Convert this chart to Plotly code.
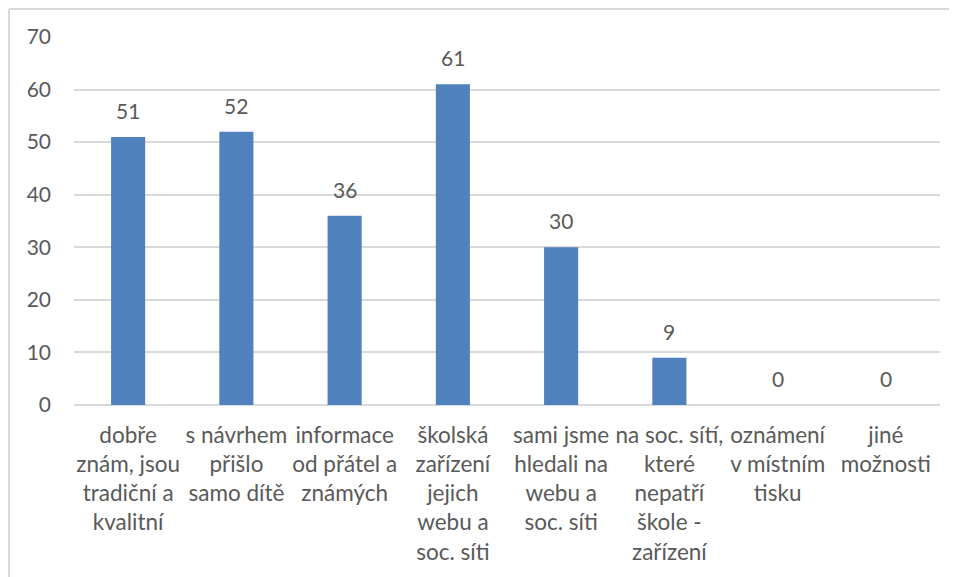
import plotly.graph_objects as go

categories = [
    "dobře<br>znám, jsou<br>tradiční a<br>kvalitní",
    "s návrhem<br>přišlo<br>samo dítě",
    "informace<br>od přátel a<br>známých",
    "školská<br>zařízení<br>jejich<br>webu a<br>soc. síti",
    "sami jsme<br>hledali na<br>webu a<br>soc. síti",
    "na soc. sítí,<br>které<br>nepatří<br>škole -<br>zařízení",
    "oznámení<br>v místním<br>tisku",
    "jiné<br>možnosti",
]
values = [51, 52, 36, 61, 30, 9, 0, 0]
y_ticks = [0, 10, 20, 30, 40, 50, 60, 70]

FONT = "Lato, Open Sans, sans-serif"
TXT = "#595959"
GRID = "#D9D9D9"

fig = go.Figure()
fig.add_trace(go.Bar(
    x=categories, y=values,
    marker=dict(color="#4F81BD", line=dict(width=0)),
    hoverinfo="skip",
))

for c, v in zip(categories, values):
    fig.add_annotation(x=c, y=v, text=str(v), showarrow=False,
                       yanchor="bottom", yshift=12,
                       font=dict(family=FONT, size=21, color=TXT))

# chart frame
fig.add_shape(type="line", xref="paper", yref="paper",
              x0=-0.075, x1=1.2, y0=1.076, y1=1.076,
              line=dict(color=GRID, width=2))
fig.add_shape(type="line", xref="paper", yref="paper",
              x0=-0.075, x1=-0.075, y0=1.076, y1=-0.6,
              line=dict(color=GRID, width=2))

fig.update_layout(
    width=949, height=569,
    margin=dict(l=66, r=17, t=29, b=172, autoexpand=False),
    paper_bgcolor="white", plot_bgcolor="white",
    bargap=0.685,
    showlegend=False,
    font=dict(family=FONT, size=21, color=TXT),
    xaxis=dict(showgrid=False, tickangle=0, ticklabelstandoff=14,
               automargin=False,
               tickfont=dict(family=FONT, size=22.5, color=TXT),
               showline=False, zeroline=False),
    yaxis=dict(range=[0, 70], tickvals=y_ticks, showgrid=True,
               automargin=False,
               gridcolor=GRID, gridwidth=2, zeroline=True,
               zerolinecolor=GRID, zerolinewidth=2,
               ticklabelstandoff=22,
               tickfont=dict(family=FONT, size=21, color=TXT)),
)

fig.write_html("out.html", config={"displayModeBar": False})
